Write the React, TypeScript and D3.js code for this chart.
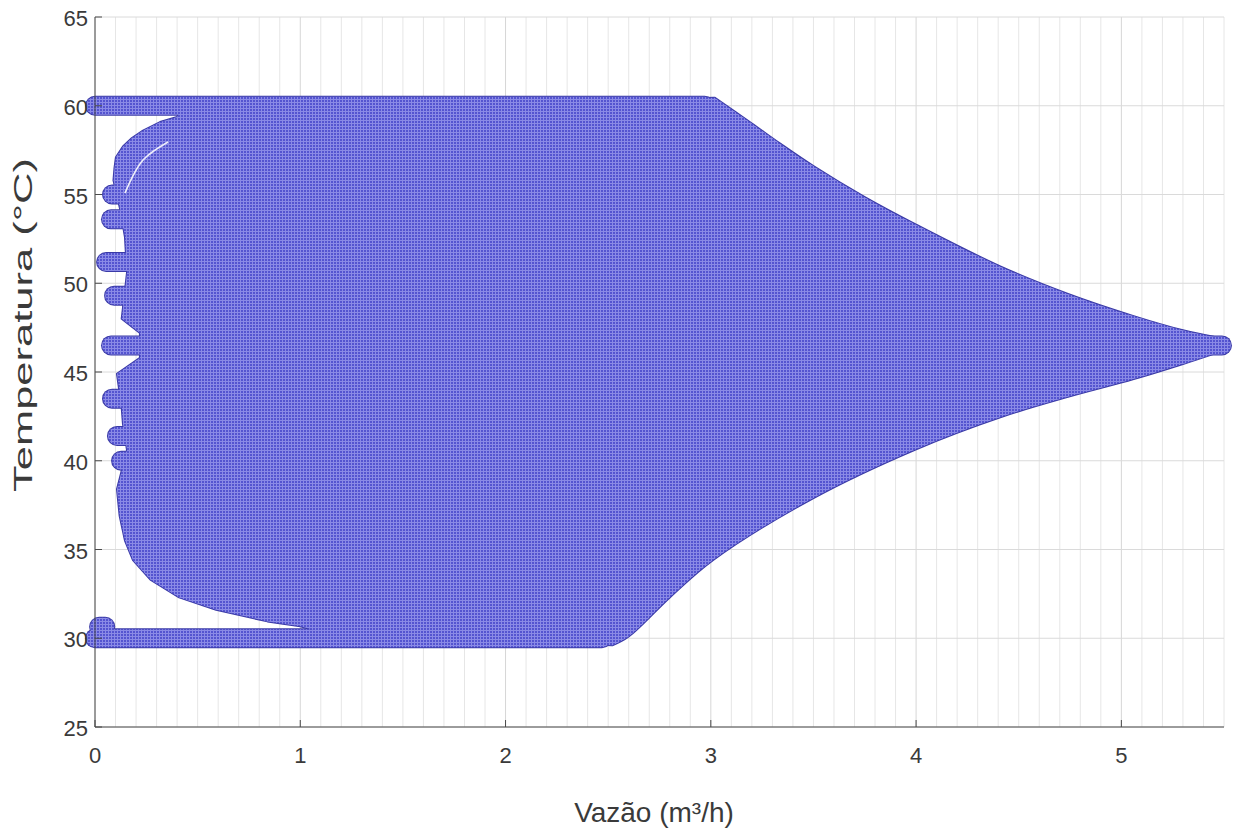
import React from "react";
import * as d3 from "d3";

const W = 1234;
const H = 831;
const plot = { left: 95, right: 1224, top: 17, bottom: 727 };

const xTicks = [0, 1, 2, 3, 4, 5];
const yTicks = [25, 30, 35, 40, 45, 50, 55, 60, 65];

// Rows of markers at a fixed temperature: [temperature, first flow, last flow]
const tempRows: [number, number, number][] = [
  [60, 0, 2.97],
  [30, 0, 2.47],
  [30.65, 0.02, 0.05],
  [55.0, 0.083, 0.5],
  [53.6, 0.078, 0.5],
  [51.2, 0.054, 0.5],
  [49.3, 0.093, 0.5],
  [46.5, 0.078, 5.49],
  [43.5, 0.083, 0.5],
  [41.4, 0.107, 0.5],
  [40.0, 0.127, 0.5],
];

// Outer envelope of the operating points (flow, temperature)
const upperEdge: [number, number][] = [
  [3.02, 60.45], [3.2, 59.0], [3.34, 57.85], [3.5, 56.6], [3.75, 54.85],
  [4.0, 53.3], [4.41, 50.95], [4.74, 49.4], [5.06, 48.15], [5.3, 47.35],
  [5.45, 46.98],
];
const lowerEdge: [number, number][] = [
  [5.45, 46.02], [5.3, 45.45], [5.06, 44.6], [4.74, 43.6], [4.41, 42.45],
  [4.0, 40.65], [3.5, 37.9], [3.01, 34.4], [2.8, 32.3], [2.6, 30.1],
  [2.52, 29.6],
];
const leftEdge: [number, number][] = [
  [1.15, 30.2], [1.0, 30.68], [0.84, 30.95], [0.59, 31.6], [0.41, 32.3],
  [0.27, 33.3], [0.185, 34.4], [0.146, 35.5], [0.12, 36.9], [0.107, 38.4],
  [0.156, 40.6], [0.136, 42.1], [0.13, 43.0], [0.107, 44.9], [0.219, 45.8],
  [0.219, 47.2], [0.13, 48.0], [0.156, 50.6], [0.146, 52.6], [0.122, 54.2],
  [0.09, 55.8], [0.095, 56.5], [0.102, 57.1], [0.136, 57.7], [0.18, 58.18],
  [0.234, 58.6], [0.317, 59.08], [0.4, 59.37], [0.42, 59.8],
];
// Thin gap between neighbouring markers near the top-left
const gapArc: [number, number][] = [
  [0.146, 55.08], [0.234, 56.94], [0.356, 57.96],
];

const markerRadius = 9;

export default function App() {
  const x = d3.scaleLinear().domain([0, 5.5]).range([plot.left, plot.right]);
  const y = d3.scaleLinear().domain([25, 65]).range([plot.bottom, plot.top]);

  const minorX = d3.range(0, 56).map((i) => i / 10).filter((v) => !xTicks.includes(v));

  const smooth = d3
    .line<[number, number]>()
    .x((d) => x(d[0]))
    .y((d) => y(d[1]))
    .curve(d3.curveCatmullRom.alpha(0.5));
  const upperPath = smooth(upperEdge) as string;
  const lowerPath = (smooth(lowerEdge) as string).replace(/^M/, "L");
  const leftPart = leftEdge.map((d) => `L${x(d[0])},${y(d[1])}`).join("");
  const bodyPath = upperPath + lowerPath + leftPart + "Z";
  const arcPath = smooth(gapArc) as string;

  const font = "'Liberation Sans', Arial, sans-serif";
  const textColor = "#3a3a3a";
  const axisColor = "#4a4a4a";

  return (
    <svg width={W} height={H} style={{ position: "absolute", left: 0, top: 0, background: "#fff" }}>
      <defs>
        <pattern id="markerTex" patternUnits="userSpaceOnUse" width={3} height={3}>
          <rect width={3} height={3} fill="#5454d0" />
          <rect width={3} height={1} fill="#8a8ae6" />
          <rect width={1} height={3} fill="#8a8ae6" />
        </pattern>
      </defs>
      <rect x={0} y={0} width={W} height={H} fill="#fff" />

      {/* grid */}
      {minorX.map((v) => (
        <line key={"mx" + v} x1={x(v)} x2={x(v)} y1={plot.top} y2={plot.bottom} stroke="#e6e6e6" strokeWidth={1} />
      ))}
      {xTicks.map((v) => (
        <line key={"gx" + v} x1={x(v)} x2={x(v)} y1={plot.top} y2={plot.bottom} stroke="#d6d6d6" strokeWidth={1} />
      ))}
      {yTicks.map((v) => (
        <line key={"gy" + v} x1={plot.left} x2={plot.right} y1={y(v)} y2={y(v)} stroke="#dadada" strokeWidth={1} />
      ))}

      {/* marker edges */}
      <g fill="#3a3aa6" stroke="#3a3aa6">
        <path d={bodyPath} strokeWidth={2} strokeLinejoin="round" />
        {tempRows.map(([t, q0, q1], i) => (
          <line key={"er" + i} x1={x(q0)} x2={x(q1)} y1={y(t)} y2={y(t)} strokeWidth={markerRadius * 2 + 2} strokeLinecap="round" />
        ))}
      </g>
      {/* marker faces */}
      <g fill="url(#markerTex)" stroke="url(#markerTex)">
        <path d={bodyPath} strokeWidth={0} />
        {tempRows.map(([t, q0, q1], i) => (
          <line key={"fr" + i} x1={x(q0)} x2={x(q1)} y1={y(t)} y2={y(t)} strokeWidth={markerRadius * 2} strokeLinecap="round" />
        ))}
      </g>
      <path d={arcPath} fill="none" stroke="#eeeefa" strokeWidth={1.6} />

      {/* axes */}
      <line x1={plot.left} x2={plot.left} y1={plot.top} y2={plot.bottom} stroke={axisColor} strokeWidth={1} />
      <line x1={plot.left} x2={plot.right} y1={plot.bottom} y2={plot.bottom} stroke={axisColor} strokeWidth={1} />
      {xTicks.map((v) => (
        <g key={"xt" + v}>
          <line x1={x(v)} x2={x(v)} y1={plot.bottom} y2={plot.bottom - 7} stroke={axisColor} />
          <text x={x(v)} y={763} textAnchor="middle" fontFamily={font} fontSize={22} fill={textColor}>
            {v}
          </text>
        </g>
      ))}
      {yTicks.map((v) => (
        <g key={"yt" + v}>
          <line x1={plot.left} x2={plot.left + 7} y1={y(v)} y2={y(v)} stroke={axisColor} />
          <text x={88} y={y(v) + 9} textAnchor="end" fontFamily={font} fontSize={22} fill={textColor}>
            {v}
          </text>
        </g>
      ))}
      <text x={654} y={822} textAnchor="middle" fontFamily={font} fontSize={28} fill={textColor}>
        Vazão (m³/h)
      </text>
      <text
        transform={`translate(32, 325) rotate(-90)`}
        textAnchor="middle"
        fontFamily={font}
        fontSize={25}
        fill={textColor}
        textLength={334}
        lengthAdjust="spacingAndGlyphs"
      >
        Temperatura (°C)
      </text>
    </svg>
  );
}
